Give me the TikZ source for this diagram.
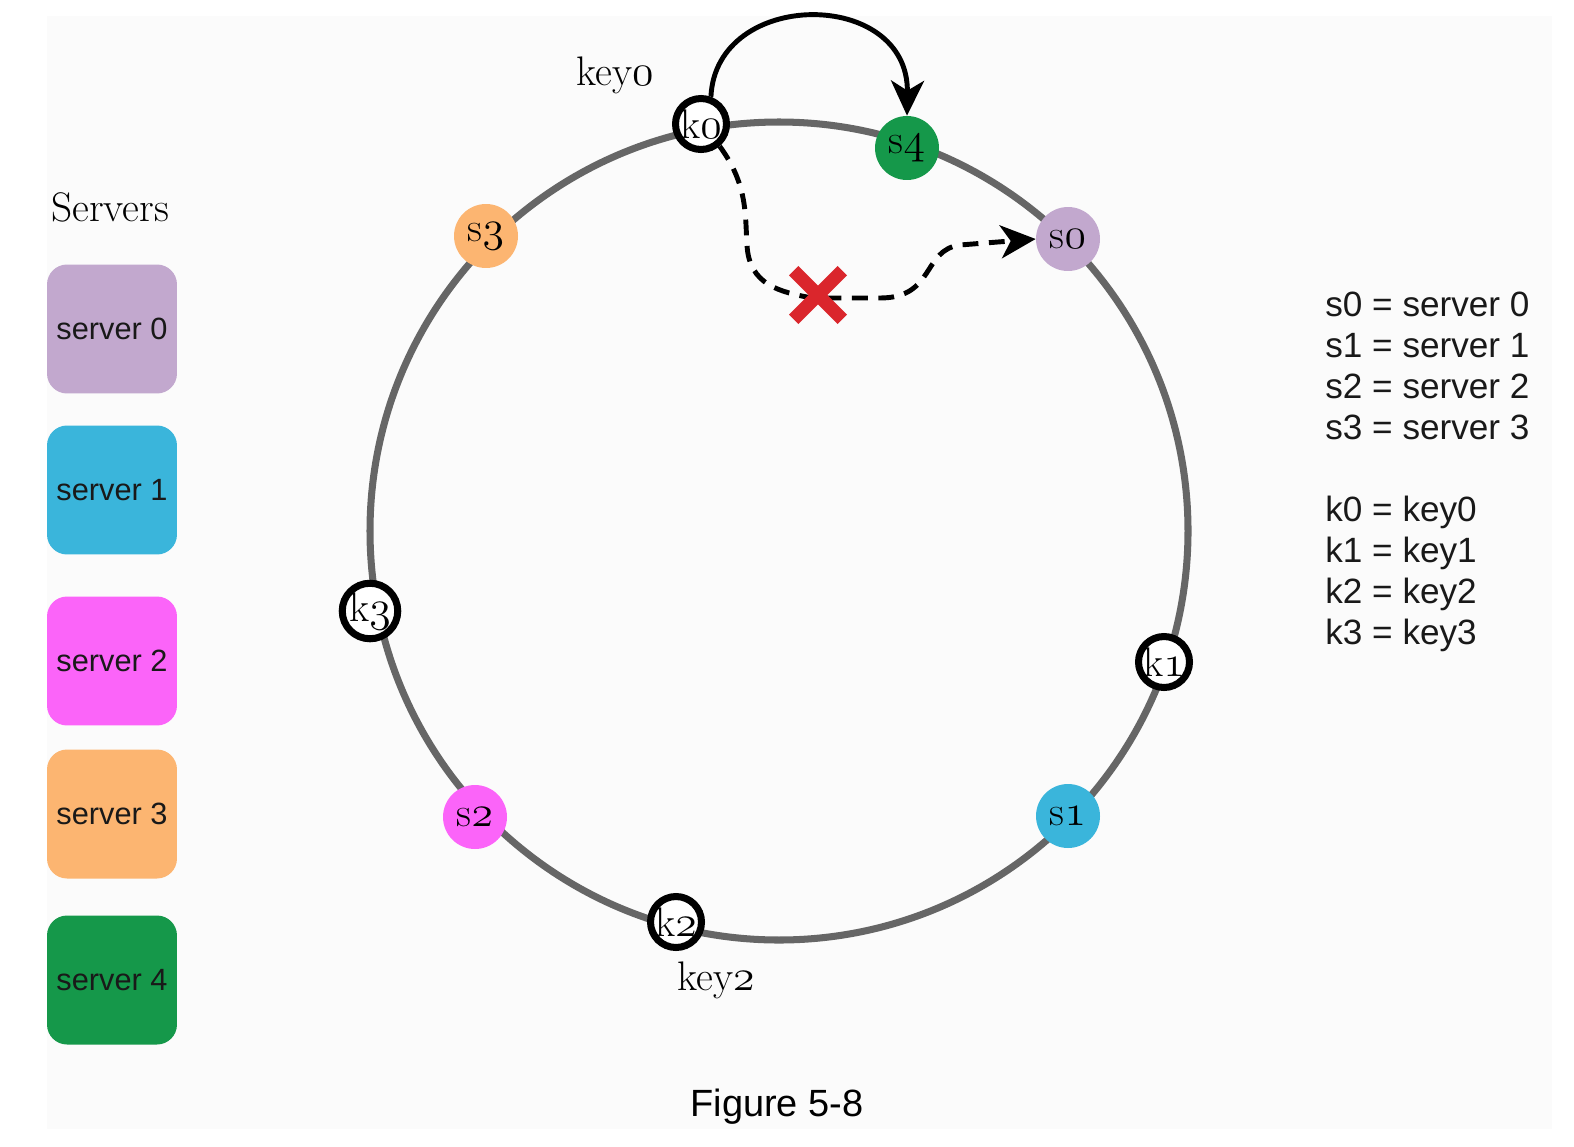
\documentclass[tikz,border=0pt]{standalone}
\usepackage{fontspec}
\setsansfont{Liberation Sans}
\usetikzlibrary{arrows.meta}
\definecolor{bgc}{HTML}{FBFBFB}
\definecolor{ringgray}{HTML}{666666}
\definecolor{cz}{HTML}{C2A8CE}
\definecolor{co}{HTML}{3AB5DB}
\definecolor{ctw}{HTML}{FB64F9}
\definecolor{cth}{HTML}{FCB571}
\definecolor{cf}{HTML}{15984A}
\definecolor{xred}{HTML}{DA262C}
\newcommand{\myosf}[1]{{\usefont{OML}{lmm}{m}{it}#1}}
\newcommand{\ringfont}{\rmfamily\fontsize{23.5pt}{27pt}\selectfont}
\newcommand{\labfont}{\rmfamily\fontsize{23.5pt}{27pt}\selectfont}
\newcommand{\boxfont}{\sffamily\fontsize{17.5pt}{21pt}\selectfont}
\newcommand{\legfont}{\sffamily\fontsize{20pt}{24pt}\selectfont}
\newcommand{\figfont}{\sffamily\fontsize{21.6pt}{25pt}\selectfont}
\begin{document}
\begin{tikzpicture}[x=0.02cm,y=-0.02cm,
  ring/.style={draw=ringgray,line width=4pt},
  srv/.style={circle,minimum size=1.28cm,inner sep=0pt,font=\ringfont},
  keyring/.style={circle,draw=black,fill=white,line width=4pt,minimum size=1.02cm,inner sep=0pt,font=\ringfont},
  srvbox/.style={rounded corners=0.4cm,minimum width=2.6cm,minimum height=2.58cm,font=\boxfont,text=black!90},
  legend/.style={anchor=base west,font=\legfont,inner sep=0pt,text=black!90},
  lab/.style={font=\labfont,anchor=base,inner sep=0pt},
  link/.style={line width=2.8pt,-{Stealth[length=0.7cm,width=0.66cm,inset=0.2cm]}},
  ]
\useasboundingbox (0,0) rectangle (1574,1146);
\fill[bgc] (47,16) rectangle (1552,1129);

% ring
\draw[ring] (779,531) circle[radius=409];

% server boxes
\node[lab] (title) at (110,221) {Servers};
\node[srvbox,fill=cz]  (b0) at (112,329) {server 0};
\node[srvbox,fill=co]  (b1) at (112,490) {server 1};
\node[srvbox,fill=ctw] (b2) at (112,661) {server 2};
\node[srvbox,fill=cth] (b3) at (112,814) {server 3};
\node[srvbox,fill=cf]  (b4) at (112,980) {server 4};

% servers on ring
\node[srv,fill=cf]  (s4) at (907,148) {s\myosf{4}};
\node[srv,fill=cz]  (s0) at (1068,239) {s\myosf{0}};
\node[srv,fill=co]  (s1) at (1068,816) {s\myosf{1}};
\node[srv,fill=ctw] (s2) at (475,817) {s\myosf{2}};
\node[srv,fill=cth] (s3) at (486,236) {s\myosf{3}};

% keys on ring
\node[keyring] (k0) at (701,124) {k\myosf{0}};
\node[keyring] (k1) at (1164,662) {k\myosf{1}};
\node[keyring] (k2) at (676,922) {k\myosf{2}};
\node[keyring] (k3) at (370,611) {k\myosf{3}};

\node[lab] (key0) at (615,85) {key\myosf{0}};
\node[lab] (key2) at (716,990) {key\myosf{2}};

% arrows
\draw[link] (k0.70) .. controls (716,-12) and (909,-12) .. (s4.north);
\draw[link,dash pattern=on 9pt off 6pt] (k0.-50) .. controls (748,185) and (745,215) .. (747,245)
  .. controls (749,285) and (780,292) .. (812,298) -- (880,298)
  .. controls (935,298) and (922,250) .. (960,245) -- (s0.west);

% red cross
\node[inner sep=0pt,minimum size=0.96cm] (x) at (818,295) {};
\draw[xred,line width=7.5pt] (x.north west) -- (x.south east) (x.north east) -- (x.south west);

% legend
\node[legend] (l0) at (1325,316) {s0 = server 0};
\node[legend] (l1) at (1325,357) {s1 = server 1};
\node[legend] (l2) at (1325,398) {s2 = server 2};
\node[legend] (l3) at (1325,439) {s3 = server 3};
\node[legend] (l4) at (1325,521) {k0 = key0};
\node[legend] (l5) at (1325,562) {k1 = key1};
\node[legend] (l6) at (1325,603) {k2 = key2};
\node[legend] (l7) at (1325,644) {k3 = key3};

\node[anchor=base,font=\figfont,inner sep=0pt] (fig) at (777,1116) {Figure 5-8};
\end{tikzpicture}
\end{document}
